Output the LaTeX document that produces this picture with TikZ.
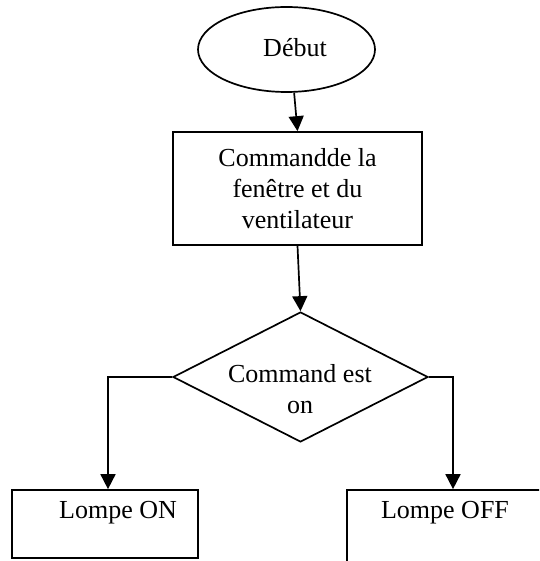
\documentclass[tikz,border=0pt]{standalone}
\usepackage{fontspec}
\setmainfont{Liberation Serif}
\usetikzlibrary{shapes.geometric,arrows.meta}
\begin{document}
\begin{tikzpicture}[x=1pt,y=-1pt,
  every node/.style={font=\fontsize{26}{31}\selectfont},
  line/.style={line width=1.7pt},
  arr/.style={line, -{Triangle[length=15pt,width=15pt]}},
  startbox/.style={draw, line width=1.7pt, ellipse, inner sep=0pt,
    minimum width=177pt, minimum height=85pt},
  procbox/.style={draw, line width=1.7pt, rectangle, inner sep=0pt},
  testbox/.style={draw, line width=1.7pt, diamond, inner sep=0pt,
    minimum width=255pt, minimum height=130pt},
  lbl/.style={inner sep=0pt, align=center}]
  \clip (0,0) rectangle (539,561);
  \fill[white] (0,0) rectangle (539,561);

  % start
  \node[startbox] (deb) at (286.5,49.5) {};
  \node[lbl, anchor=base] (debtxt) at (295,57) {Début};

  % command block
  \node[procbox, minimum width=249pt, minimum height=113pt] (cmd) at (297.5,188.5)
    {};
  \node[lbl] (cmdtxt) at (297.5,188.5)
    {Commandde la\\fenêtre et du\\ventilateur};

  % decision
  \node[testbox] (dia) at (300.5,377) {};
  \node[lbl] (diatxt) at (300,389) {Command est\\on};

  % outputs
  \node[procbox, minimum width=186pt, minimum height=68pt] (on) at (105,524) {};
  \node[lbl, anchor=base] (ontxt) at (118,518) {Lompe ON};
  \node[procbox, minimum width=212pt, minimum height=120pt] (off) at (453,550) {};
  \node[lbl, anchor=base] (offtxt) at (445,518) {Lompe OFF};

  % connectors
  \draw[arr] (deb.-80) -- (cmd.north);
  \draw[arr] (cmd.south) -- (dia.north);
  \draw[arr] (dia.west) -| ([xshift=3pt]on.north);
  \draw[arr] (dia.east) -| (off.north);
\end{tikzpicture}
\end{document}
